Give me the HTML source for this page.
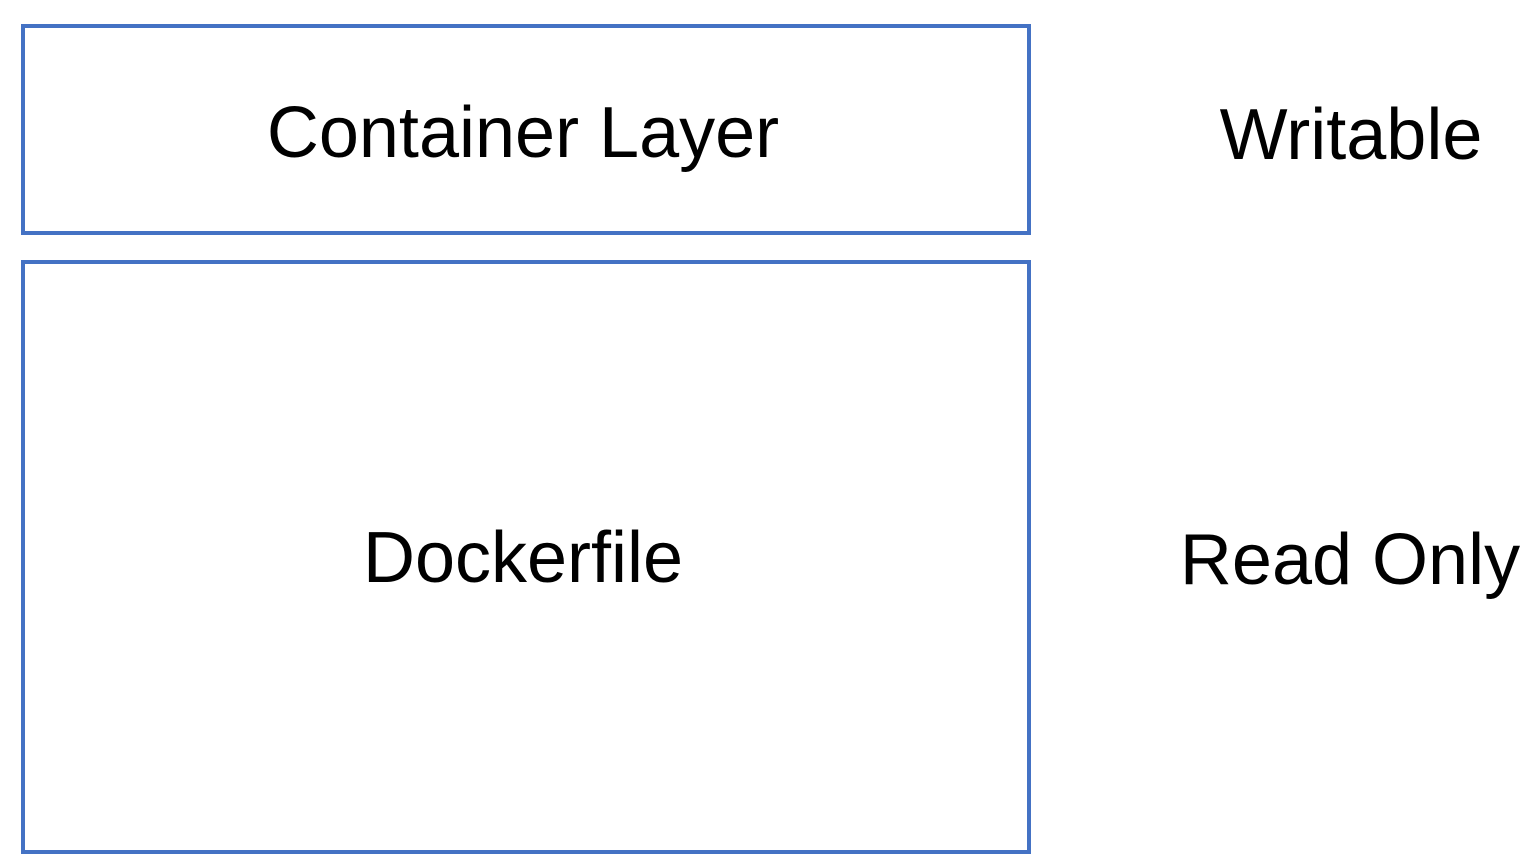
<!DOCTYPE html>
<html><head><style>
html,body{margin:0;padding:0;background:#fff;width:1532px;height:864px;overflow:hidden}
.b{position:absolute;border:4px solid #4472C4;box-sizing:border-box}
.t{position:absolute;font-family:"Liberation Sans","Noto Sans CJK KR",sans-serif;font-size:72px;color:#000;white-space:nowrap;transform:translate(-50%,-50%);line-height:1}
</style></head><body>
<div class="b" style="left:21px;top:24px;width:1010px;height:211px"></div>
<div class="b" style="left:21px;top:260px;width:1010px;height:594px"></div>
<div class="t" style="left:523px;top:133px">Container Layer</div>
<div class="t" style="left:523px;top:558px">Dockerfile</div>
<div class="t" style="left:1351px;top:135px">Writable</div>
<div class="t" style="left:1350px;top:560px">Read Only</div>
</body></html>
